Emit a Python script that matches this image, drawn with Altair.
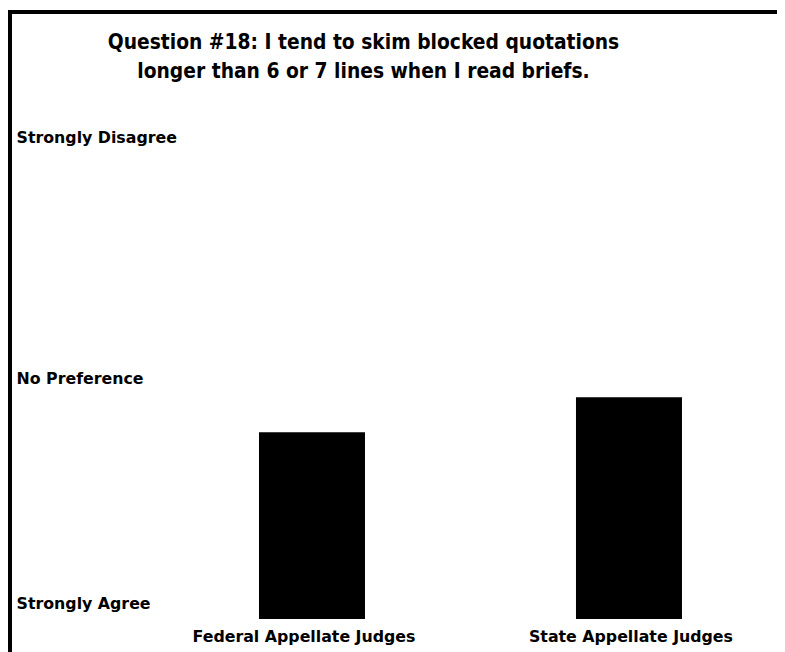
import altair as alt
import pandas as pd

# Data (mean response on a 1-5 scale)
groups = ["Federal Appellate Judges", "State Appellate Judges"]
mean_response = [2.55, 2.84]

# Response scale (1 = Strongly Agree ... 5 = Strongly Disagree)
scale_values = [1, 3, 5]
scale_labels = ["Strongly Agree", "No Preference", "Strongly Disagree"]
scale_floor = 1

title_lines = [
    "Question #18: I tend to skim blocked quotations",
    "longer than 6 or 7 lines when I read briefs.",
]

df = pd.DataFrame({"group": groups, "mean": mean_response})

label_expr = " : ".join(
    f"datum.value == {v} ? '{t}'" for v, t in zip(scale_values[:-1], scale_labels[:-1])
) + f" : '{scale_labels[-1]}'"

FONT = "DejaVu Sans"
LABEL_SIZE = 15.8

chart = (
    alt.Chart(df)
    .mark_bar(color="#000000")
    .encode(
        x=alt.X(
            "group:N",
            sort=groups,
            title=None,
            scale=alt.Scale(paddingInner=0.6656, paddingOuter=0.6057, align=0.6484),
            axis=alt.Axis(
                orient="bottom",
                domain=False,
                ticks=False,
                grid=False,
                labelAngle=0,
                labelPadding=0,
                labelBaseline="top",
                labelLimit=1000,
                offset=-63,
                labelFont=FONT,
                labelFontSize=LABEL_SIZE,
                labelFontWeight="bold",
                labelColor="#000000",
                labelOffset={
                    "condition": {"test": f"datum.value == '{groups[0]}'", "value": -8},
                    "value": 2,
                },
            ),
        ),
        y=alt.Y(
            "mean:Q",
            title=None,
            scale=alt.Scale(domain=[0.3942, 6.0373], nice=False, zero=False),
            axis=alt.Axis(
                values=scale_values,
                labelExpr=label_expr,
                domain=False,
                ticks=False,
                grid=False,
                labelAlign="left",
                labelBaseline="middle",
                labelPadding=-6,
                labelLimit=1000,
                labelFont=FONT,
                labelFontSize=LABEL_SIZE,
                labelFontWeight="bold",
                labelColor="#000000",
                labelOffset={
                    "condition": {"test": f"datum.value == {scale_values[0]}", "value": -16},
                    "value": 1,
                },
            ),
        ),
        y2=alt.datum(scale_floor),
    )
    .properties(
        width=807,
        height=680,
        autosize=alt.AutoSizeParams(type="none"),
        padding={"left": 2, "top": 4, "right": -40, "bottom": -40},
        background="#ffffff",
        title=alt.TitleParams(
            text=title_lines,
            anchor="middle",
            frame="group",
            dx=-50,
            offset=-71,
            baseline="top",
            font="DejaVu Sans Condensed",
            fontSize=20.8,
            fontWeight="bold",
            lineHeight=29,
            color="#000000",
        ),
    )
    .configure_view(stroke="#000000", strokeWidth=4, fill="#ffffff")
)

chart.save("out.html", embed_options={"renderer": "svg", "actions": False})
